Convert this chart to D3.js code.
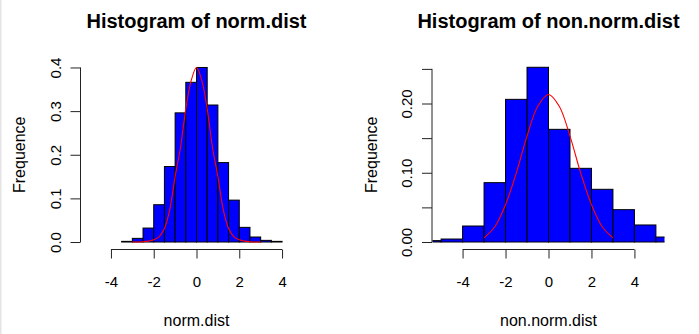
<!DOCTYPE html>
<html>
<head>
<meta charset="utf-8">
<script src="https://cdn.jsdelivr.net/npm/d3@7"></script>
<style>
  html, body { margin: 0; padding: 0; background: #fff; }
  svg { display: block; }
  text { font-family: "Liberation Sans", Arial, Helvetica, sans-serif; fill: #000; }
</style>
</head>
<body>
<svg id="chart" width="699" height="334"></svg>
<script>
// ---------- data ----------
const titles = ["Histogram of norm.dist", "Histogram of non.norm.dist"];
const xLabels = ["norm.dist", "non.norm.dist"];
const yLabel = "Frequence";

// left histogram (density), bins of 0.5 from -3.5 to 4
const normBreaks = [-3.5, -3, -2.5, -2, -1.5, -1, -0.5, 0, 0.5, 1, 1.5, 2, 2.5, 3, 3.5, 4];
const normDensity = [0.0015, 0.0084, 0.032, 0.0855, 0.173, 0.296, 0.366, 0.400, 0.314, 0.182, 0.096, 0.0336, 0.0115, 0.0038, 0.0015];

// right histogram (density), bins of 1 from -6 to 6
const nonNormBreaks = [-6, -5, -4, -3, -2, -1, 0, 1, 2, 3, 4, 5, 6];
const nonNormDensity = [0.002, 0.0043, 0.0231, 0.0857, 0.206, 0.2523, 0.1627, 0.1064, 0.0761, 0.0467, 0.0246, 0.0072];

// red curves
const normCurveX = [-3, -2.75, -2.5, -2.25, -2, -1.75, -1.5, -1.25, -1, -0.75, -0.5, -0.25, 0, 0.25, 0.5, 0.75, 1, 1.25, 1.5, 1.75, 2, 2.25, 2.5, 2.75, 3];
const normCurveY = [0, 0, 0.0005, 0.002, 0.005, 0.012, 0.031, 0.074, 0.150, 0.216, 0.305, 0.370, 0.400, 0.370, 0.305, 0.216, 0.150, 0.074, 0.031, 0.012, 0.005, 0.002, 0.0005, 0, 0];
const nonNormCurveX = [-3, -2.5, -2, -1.5, -1, -0.5, 0, 0.5, 1, 1.5, 2, 2.5, 3];
const nonNormCurveY = [0.006, 0.022, 0.054, 0.0995, 0.153, 0.196, 0.213, 0.196, 0.153, 0.0995, 0.054, 0.022, 0.006];

const xTicks = [-4, -2, 0, 2, 4];
const normYTicks = [0, 0.1, 0.2, 0.3, 0.4];
const normYTickLabels = ["0.0", "0.1", "0.2", "0.3", "0.4"];
const nonNormYTicks = [0, 0.05, 0.10, 0.15, 0.20, 0.25];
const nonNormYTickLabels = ["0.00", "", "0.10", "", "0.20", ""];

// ---------- drawing ----------
const svg = d3.select("#chart");

svg.append("rect").attr("x", 0).attr("y", 0).attr("width", 1.5).attr("height", 334).attr("fill", "#e4e4e4");

const panels = [
  { left: 81, right: 312, title: titles[0], xlab: xLabels[0],
    breaks: normBreaks, dens: normDensity, cx: normCurveX, cy: normCurveY,
    yDomain: [-0.016, 0.416], yTicks: normYTicks, yTickLabels: normYTickLabels },
  { left: 432.5, right: 664.5, title: titles[1], xlab: xLabels[1],
    breaks: nonNormBreaks, dens: nonNormDensity, cx: nonNormCurveX, cy: nonNormCurveY,
    yDomain: [-0.0101, 0.2621], yTicks: nonNormYTicks, yTickLabels: nonNormYTickLabels }
];

const plotTop = 60.5, plotBottom = 249;

panels.forEach((p, i) => {
  const x = d3.scaleLinear().domain([-5.4, 5.4]).range([p.left, p.right]);
  const y = d3.scaleLinear().domain(p.yDomain).range([plotBottom, plotTop]);
  const g = svg.append("g");

  const clipId = "clip" + i;
  svg.append("clipPath").attr("id", clipId)
    .append("rect").attr("x", p.left).attr("y", plotTop)
    .attr("width", p.right - p.left).attr("height", plotBottom - plotTop);

  const plot = g.append("g").attr("clip-path", `url(#${clipId})`);

  const bins = p.dens.map((d, k) => ({ x0: p.breaks[k], x1: p.breaks[k + 1], d }));
  plot.selectAll("rect.bar").data(bins).enter().append("rect")
    .attr("class", "bar")
    .attr("x", b => x(b.x0))
    .attr("y", b => y(b.d))
    .attr("width", b => x(b.x1) - x(b.x0))
    .attr("height", b => y(0) - y(b.d))
    .attr("fill", "#0000ff")
    .attr("stroke", "#000")
    .attr("stroke-width", 1);

  const line = d3.line()
    .x((d, k) => x(p.cx[k]))
    .y((d, k) => y(p.cy[k]))
    .curve(d3.curveCatmullRom.alpha(0.5));
  plot.append("path").datum(p.cx).attr("d", line)
    .attr("fill", "none").attr("stroke", "#ff0000").attr("stroke-width", 1.1);

  // x axis
  const xAxis = d3.axisBottom(x).tickValues(xTicks).tickFormat(d3.format("d"))
    .tickSize(9).tickPadding(0);
  const gx = g.append("g").attr("transform", `translate(0,${plotBottom + 0.5})`).call(xAxis);
  gx.select(".domain").remove();
  gx.append("line").attr("x1", x(xTicks[0])).attr("x2", x(xTicks[xTicks.length - 1]))
    .attr("y1", 0).attr("y2", 0).attr("stroke", "#222");
  gx.selectAll(".tick line").attr("stroke", "#222");
  gx.selectAll(".tick text").attr("y", 0).attr("dy", null)
    .attr("transform", "translate(0,37.5)")
    .style("font-size", "15px").attr("fill", "#000")
    .text(d => d < 0 ? "-" + Math.abs(d) : String(d));

  // y axis
  const yAxis = d3.axisLeft(y).tickValues(p.yTicks)
    .tickFormat((d, k) => p.yTickLabels[k]).tickSize(10).tickPadding(0);
  const gy = g.append("g").attr("transform", `translate(${p.left - 0.5},0)`).call(yAxis);
  gy.select(".domain").remove();
  gy.append("line").attr("x1", 0).attr("x2", 0)
    .attr("y1", y(p.yTicks[0])).attr("y2", y(p.yTicks[p.yTicks.length - 1])).attr("stroke", "#222");
  gy.selectAll(".tick line").attr("stroke", "#222");
  gy.selectAll(".tick text")
    .attr("x", null).attr("dy", null)
    .attr("text-anchor", "middle")
    .attr("transform", "translate(-20,0) rotate(-90)")
    .style("font-size", "15px").attr("fill", "#000");

  const cxMid = (p.left + p.right) / 2;
  // title
  g.append("text").attr("x", cxMid).attr("y", 28)
    .attr("text-anchor", "middle").style("font-size", "20px").style("font-weight", "bold")
    .text(p.title);
  // x label
  g.append("text").attr("x", cxMid).attr("y", 326)
    .attr("text-anchor", "middle").style("font-size", "16px")
    .text(p.xlab);
  // y label
  g.append("text")
    .attr("transform", `translate(${p.left - 56},${(plotTop + plotBottom) / 2}) rotate(-90)`)
    .attr("text-anchor", "middle").style("font-size", "16px")
    .text(yLabel);
});
</script>
</body>
</html>
